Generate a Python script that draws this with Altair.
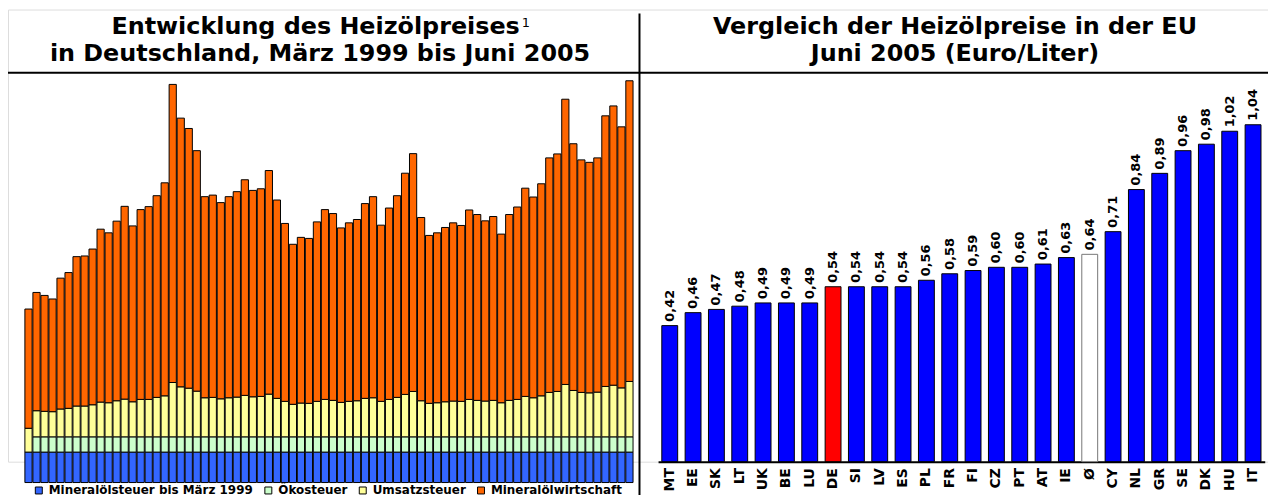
import altair as alt
import pandas as pd

# ---------------- data: left chart (ct/Liter) ----------------
monate = [f"{j}-{m:02d}" for j in range(1999, 2006) for m in range(1, 13)][2:2 + 76]

komponenten = ["Mineralölsteuer bis März 1999", "Ökosteuer", "Umsatzsteuer", "Mineralölwirtschaft"]

mineraloelsteuer = [4.09] * 76
oekosteuer = [0.0] + [2.05] * 75
umsatzsteuer = [
    3.20, 3.51, 3.43, 3.38, 3.74, 3.83, 4.14, 4.14, 4.31, 4.67,
    4.58, 4.85, 5.07, 4.71, 5.03, 5.03, 5.30, 5.51, 7.30, 6.72,
    6.54, 6.14, 5.25, 5.30, 5.11, 5.25, 5.34, 5.57, 5.38, 5.43,
    5.74, 5.17, 4.77, 4.37, 4.54, 4.50, 4.77, 5.03, 4.90, 4.63,
    4.77, 4.85, 5.17, 5.25, 4.77, 5.03, 5.30, 5.70, 6.10, 4.85,
    4.50, 4.58, 4.71, 4.81, 4.77, 5.03, 4.90, 4.81, 4.90, 4.58,
    4.90, 5.03, 5.43, 5.25, 5.51, 5.97, 6.10, 7.04, 6.23, 5.97,
    5.91, 6.01, 6.77, 6.94, 6.58, 7.44,
]
mineraloelwirtschaft = [
    16.02, 15.89, 15.57, 15.14, 17.58, 18.24, 20.07, 20.16, 20.92, 23.23,
    22.83, 24.13, 25.90, 23.63, 25.50, 25.90, 27.10, 28.62, 40.05, 36.10,
    34.89, 32.31, 27.02, 27.18, 26.36, 27.02, 27.60, 28.97, 27.73, 27.90,
    30.04, 26.65, 23.90, 21.50, 22.26, 22.16, 24.11, 25.50, 25.10, 23.44,
    23.98, 24.35, 26.17, 27.02, 23.67, 25.71, 27.10, 29.72, 31.95, 24.62,
    22.56, 22.83, 23.42, 23.94, 23.63, 25.45, 24.97, 24.21, 24.70, 22.66,
    24.97, 25.85, 27.98, 26.97, 28.49, 31.51, 31.91, 38.32, 33.15, 31.24,
    30.97, 31.47, 36.36, 37.52, 35.07, 40.40,
]

# ---------------- data: right chart (Euro/Liter) ----------------
laender = ["MT", "EE", "SK", "LT", "UK", "BE", "LU", "DE", "SI", "LV", "ES", "PL", "FR",
           "FI", "CZ", "PT", "AT", "IE", "Ø", "CY", "NL", "GR", "SE", "DK", "HU", "IT"]
preise = [0.42, 0.46, 0.47, 0.48, 0.49, 0.49, 0.49, 0.54, 0.54, 0.54, 0.54, 0.56, 0.58,
          0.59, 0.60, 0.60, 0.61, 0.63, 0.64, 0.71, 0.84, 0.89, 0.96, 0.98, 1.02, 1.04]

titel_links = ["Entwicklung des Heizölpreises", "in Deutschland, März 1999 bis Juni 2005"]
fussnote = "1"
titel_rechts = ["Vergleich der Heizölpreise in der EU", "Juni 2005 (Euro/Liter)"]

# ---------------- build tables ----------------
reihen = [mineraloelsteuer, oekosteuer, umsatzsteuer, mineraloelwirtschaft]
zeilen = []
for i, monat in enumerate(monate):
    for k, (name, reihe) in enumerate(zip(komponenten, reihen)):
        zeilen.append({"monat": monat, "komponente": name, "wert": reihe[i], "ordnung": k})
df_links = pd.DataFrame(zeilen)
df_rechts = pd.DataFrame({"land": laender, "preis": preise})

FONT = "DejaVu Sans"
W, H = 1268, 455
PX_CT = 7.49
BASE_L = 476
PX_EUR = 326
BASE_R = 455

links = alt.Chart(df_links).transform_filter("datum.wert > 0").mark_bar(
    stroke="black", strokeWidth=1
).encode(
    x=alt.X("monat:N", sort=monate, axis=None,
            scale=alt.Scale(range=[17, 629], paddingInner=0.1, paddingOuter=0)),
    y=alt.Y("wert:Q", stack="zero", axis=None,
            scale=alt.Scale(domain=[0, 55], range=[BASE_L, BASE_L - 55 * PX_CT], nice=False, zero=True)),
    color=alt.Color("komponente:N", sort=komponenten,
                    scale=alt.Scale(domain=komponenten, range=["#3366FF", "#CCFFCC", "#FFFF99", "#FF6600"]),
                    legend=alt.Legend(title=None, orient="none", legendX=25, legendY=478,
                                      direction="horizontal", symbolType="square", symbolSize=49,
                                      symbolStrokeColor="black", symbolStrokeWidth=1, symbolOpacity=1,
                                      labelFont=FONT, labelFontWeight="bold", labelFontSize=12,
                                      labelColor="black", labelLimit=400, columnPadding=9,
                                      labelOffset=4, padding=0)),
    order=alt.Order("ordnung:Q"),
)

x_r = alt.X("land:N", sort=laender,
            scale=alt.Scale(range=[654.2, 1264.7], paddingInner=0.32, paddingOuter=0.16),
            axis=alt.Axis(title=None, orient="bottom", labelAngle=270, labelAlign="right",
                          labelBaseline="middle", labelFont=FONT, labelFontWeight="bold",
                          labelFontSize=14, labelColor="black", ticks=False, grid=False,
                          domainColor="black", domainWidth=2, labelPadding=6))
y_r = alt.Y("preis:Q", axis=None,
            scale=alt.Scale(domain=[0, 1.2], range=[BASE_R, BASE_R - 1.2 * PX_EUR], nice=False))

rechts_bars = alt.Chart(df_rechts).mark_bar(strokeWidth=1).encode(
    x=x_r, y=y_r,
    color=alt.when(alt.datum.land == "DE").then(alt.value("#FF0000"))
    .when(alt.datum.land == "Ø").then(alt.value("#FFFFFF"))
    .otherwise(alt.value("#0000FF")),
    stroke=alt.when(alt.datum.land == "Ø").then(alt.value("#777777")).otherwise(alt.value("black")),
)

rechts_text = alt.Chart(df_rechts).transform_calculate(
    label="replace(format(datum.preis, '.2f'), '.', ',')"
).mark_text(angle=270, align="left", baseline="middle", dx=4, font=FONT,
            fontWeight="bold", fontSize=13, color="black").encode(
    x=alt.X("land:N", sort=laender,
            scale=alt.Scale(range=[654.2, 1264.7], paddingInner=0.32, paddingOuter=0.16), axis=None),
    y=y_r,
    text="label:N",
)


def textzeile(txt, x, y, align="center", size=24, weight="bold"):
    return alt.Chart(pd.DataFrame({"t": [txt]})).mark_text(
        font=FONT, fontWeight=weight, fontSize=size, color="black",
        align=align, baseline="alphabetic"
    ).encode(text="t:N", x=alt.value(x), y=alt.value(y))


def linie(**kw):
    return alt.Chart(pd.DataFrame({"a": [0]})).mark_rule(color="black", strokeWidth=2).encode(**kw)


titel = [
    textzeile(titel_links[0], 515, 25, align="right"),
    textzeile(fussnote, 517, 18, align="left", size=13, weight="normal"),
    textzeile(titel_links[1], 314, 52),
    textzeile(titel_rechts[0], 953, 25),
    textzeile(titel_rechts[1], 953, 52),
]
linien = [
    linie(x=alt.value(0), x2=alt.value(W), y=alt.value(63.5)),
    linie(x=alt.value(635.5), y=alt.value(4), y2=alt.value(H + 40)),
]

chart = alt.layer(links, rechts_bars, rechts_text, *titel, *linien).resolve_scale(
    x="independent", y="independent", color="independent", stroke="independent"
).properties(
    width=W, height=H,
    autosize=alt.AutoSizeParams(type="none"),
    padding={"left": 0, "top": 0, "right": 0, "bottom": 32},
).configure_view(stroke=None).configure(font=FONT)

chart.save("out.html", embed_options={"renderer": "svg", "actions": False})
